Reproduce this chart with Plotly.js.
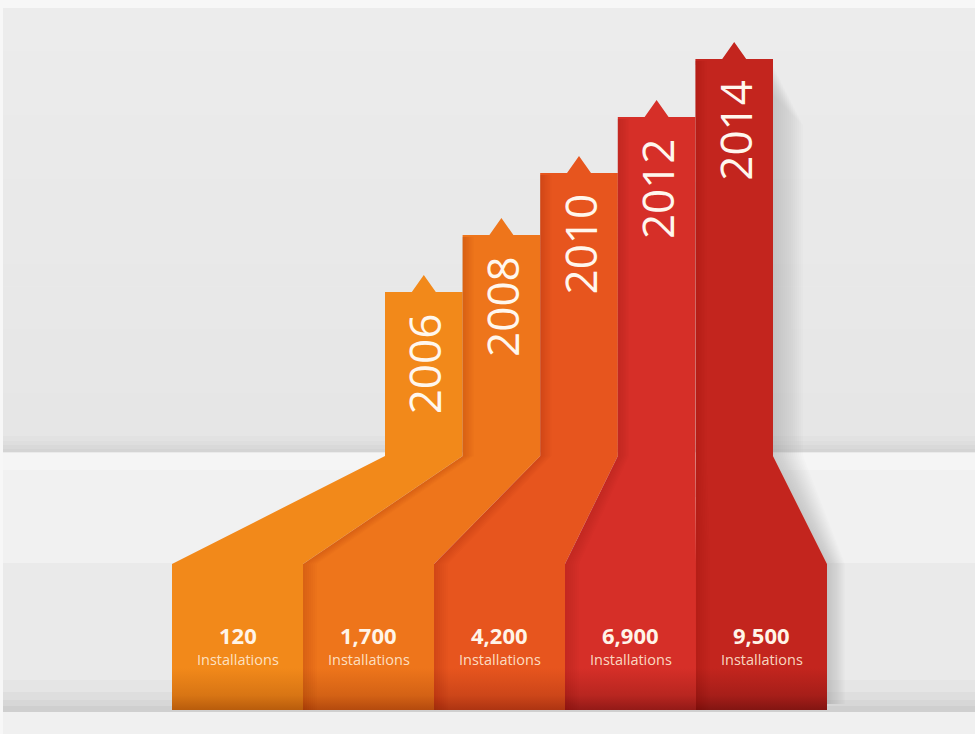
<!DOCTYPE html>
<html><head><meta charset="utf-8">
<script src="https://cdn.plot.ly/plotly-3.0.1.min.js"></script>
<style>html,body{margin:0;padding:0;background:#ebebeb;} #chart{width:975px;height:734px;}</style>
</head><body><div id="chart"></div>
<script>
// ---- data ----
const years = ['2006', '2008', '2010', '2012', '2014'];
const installations = [120, 1700, 4200, 6900, 9500];
const installUnit = 'Installations';
// visual height of each step above the shelf (arbitrary units)
const stepHeight = [164, 221, 283, 339, 397];

// ---- styling / layout constants ----
const baseColors = ['#f2891a', '#ee751b', '#e7551e', '#d62f28', '#c3251e'];
const darkColors = ['#b85c0c', '#b44a0e', '#ad3412', '#931a17', '#821512'];
const W = 975, H = 734;
const SHELF_PX = 456;                 // pixel row of the shelf (level 0)
const UP_X0 = 385, UP_W = 77.6;       // upper columns
const BOX_X0 = 172, BOX_W = 131;      // lower boxes
const BOX_TOP = -108, BOX_BOT = -254; // levels of the lower boxes
const ARROW_HW = 12, ARROW_H = 17;

const fmt = v => v.toLocaleString('en-US');
const lvl = px => SHELF_PX - px;

function hexToRgb(h) { return [1, 3, 5].map(k => parseInt(h.slice(k, k + 2), 16)); }
function mix(a, b, t) {
  const A = hexToRgb(a), B = hexToRgb(b);
  return 'rgb(' + A.map((v, k) => Math.round(v + (B[k] - v) * t)).join(',') + ')';
}

const traces = [];
const annotations = [];
const last = years.length - 1;

// soft shadow to the right of the tallest column
{
  const h = stepHeight[last];
  const ux1 = UP_X0 + (last + 1) * UP_W, bx1 = BOX_X0 + (last + 1) * BOX_W;
  for (let w = 30; w >= 2; w -= 2) {
    traces.push({
      type: 'scatter', mode: 'lines', hoverinfo: 'skip', showlegend: false,
      x: [ux1, ux1 + w, ux1 + w, bx1 + w * 0.6, bx1 + w * 0.6, bx1, bx1, ux1, ux1],
      y: [h - 6 - w, h - 6 - 2 * w, 0, BOX_TOP, BOX_BOT + 6, BOX_BOT + 6, BOX_TOP, 0, h - 6 - w],
      fill: 'toself', line: {width: 0}, fillcolor: 'rgba(110,120,140,0.022)'
    });
  }
}

years.forEach((yr, i) => {
  const h = stepHeight[i];
  const ux0 = UP_X0 + i * UP_W, ux1 = ux0 + UP_W, cx = (ux0 + ux1) / 2;
  const bx0 = BOX_X0 + i * BOX_W, bx1 = bx0 + BOX_W, bcx = (bx0 + bx1) / 2;
  const total = h + ARROW_H - BOX_BOT;
  const f = 42 / total;
  traces.push({
    type: 'scatter', mode: 'lines', hoverinfo: 'skip', showlegend: false,
    x: [bx0, bx0, ux0, ux0, cx - ARROW_HW, cx, cx + ARROW_HW, ux1, ux1, bx1, bx1, bx0],
    y: [BOX_BOT, BOX_TOP, 0, h, h, h + ARROW_H, h, h, 0, BOX_TOP, BOX_BOT, BOX_BOT],
    fill: 'toself', line: {width: 0, color: baseColors[i]}, fillcolor: baseColors[i],
    fillgradient: {type: 'vertical', start: BOX_BOT, stop: h + ARROW_H,
      colorscale: [[0, darkColors[i]], [f * 0.35, mix(baseColors[i], darkColors[i], 0.45)],
                   [f, baseColors[i]], [1, baseColors[i]]]}
  });
  // shading along the left edge of each column (cast by its neighbour)
  if (i > 0) {
    for (let s = 14; s >= 2; s -= 2) {
      traces.push({
        type: 'scatter', mode: 'lines', hoverinfo: 'skip', showlegend: false,
        x: [bx0, bx0, ux0, ux0, ux0 + s * 0.8, ux0 + s * 0.8, bx0 + s, bx0 + s, bx0],
        y: [BOX_BOT, BOX_TOP, 0, h - 2, h - 2, 0, BOX_TOP, BOX_BOT, BOX_BOT],
        fill: 'toself', line: {width: 0}, fillcolor: 'rgba(90,10,0,0.018)'
      });
    }
  }
  annotations.push({
    x: cx, y: h - 19, xref: 'x', yref: 'y', text: yr, showarrow: false,
    textangle: -90, xanchor: 'center', yanchor: 'top',
    font: {family: 'Open Sans', size: 44, color: '#fff7ee'}
  });
  annotations.push({
    x: bcx, y: -179, xref: 'x', yref: 'y', text: '<b>' + fmt(installations[i]) + '</b>',
    showarrow: false, xanchor: 'center', yanchor: 'middle',
    font: {family: 'Open Sans', size: 22, color: '#fff4e8'}
  });
  annotations.push({
    x: bcx, y: -203, xref: 'x', yref: 'y', text: installUnit,
    showarrow: false, xanchor: 'center', yanchor: 'middle',
    font: {family: 'Open Sans', size: 14.5, color: 'rgba(255,236,215,0.9)'}
  });
});

// background bands (pixel rows converted to levels)
const bands = [];
for (let k = 0; k < 20; k++) {
  const p0 = 8 + k * 21.4, p1 = p0 + 21.4;
  bands.push([p0, p1 + 0.5, mix('#ececec', '#e6e6e6', k / 19)]);
}
bands.push([0, 8, '#f7f7f7']);
bands.push(
  [436, 441, '#e2e2e2'], [441, 445, '#dedede'], [445, 449, '#d9d9d9'], [449, 452.5, '#d4d4d4'],
  [452.5, 470, '#f5f5f5'], [470, 563, '#f1f1f1'],
  [563, 680, '#eaeaea'], [680, 692, '#e5e5e5'], [692, 700, '#dedede'], [700, 706, '#d7d7d7'], [706, 712, '#cfcfcf'],
  [712, 734, '#f0f0f0']
);
const shapes = bands.map(b => ({
  type: 'rect', xref: 'paper', yref: 'y', x0: 0, x1: 1, y0: lvl(b[1]), y1: lvl(b[0]),
  fillcolor: b[2], line: {width: 0}, layer: 'below'
}));
shapes.push({type: 'rect', xref: 'x', yref: 'paper', x0: 0, x1: 3, y0: 0, y1: 1,
  fillcolor: '#f7f7f7', line: {width: 0}, layer: 'below'});

const layout = {
  width: W, height: H, margin: {l: 0, r: 0, t: 0, b: 0},
  paper_bgcolor: '#ebebeb', plot_bgcolor: 'rgba(0,0,0,0)',
  xaxis: {range: [0, W], visible: false, fixedrange: true},
  yaxis: {range: [SHELF_PX - H, SHELF_PX], visible: false, fixedrange: true},
  shapes: shapes, annotations: annotations, showlegend: false
};
Plotly.newPlot('chart', traces, layout, {displayModeBar: false, staticPlot: true});
</script></body></html>
